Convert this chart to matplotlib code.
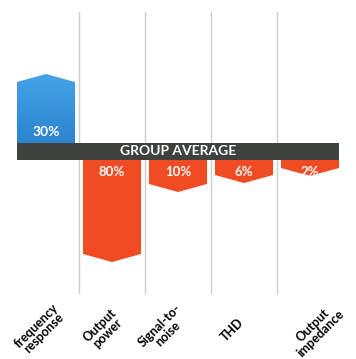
import numpy as np
import matplotlib
matplotlib.use("Agg")
from matplotlib import pyplot as plt
from matplotlib.patches import Polygon

# chart data
categories = ["frequency\nresponse", "Output\npower", "Signal-to-\nnoise", "THD", "Output\nimpedance"]
pct_labels = ["30%", "80%", "10%", "6%", "2%"]
# bar length beyond the group-average band (positive = above, negative = below)
bar_len = [69, -102, -32, -23, -16]

BLUE_TOP = "#45a3e8"
BLUE_BOT = "#2c84cf"
ORANGE = "#f14b23"
BAND = "#3e4340"
GRID = "#cfcfcf"

plt.rcParams["font.family"] = ["Lato", "DejaVu Sans"]

fig = plt.figure(figsize=(3.56, 3.59), dpi=100)
ax = fig.add_axes([0, 0, 1, 1])
ax.set_xlim(-0.697, 4.697)
ax.set_ylim(-207.5, 151.5)
ax.axis("off")

half_w = 0.44
band = 8.5
tip = 8

# vertical separators
for i in range(len(categories) - 1):
    ax.plot([i + 0.5, i + 0.5], [-141.5, 139.5], color=GRID, lw=1, zorder=1)

cmap = matplotlib.colors.LinearSegmentedColormap.from_list("b", [BLUE_BOT, BLUE_TOP])

for i, v in enumerate(bar_len):
    x0, x1 = i - half_w, i + half_w
    if v > 0:
        base, end = band, band + v
        shoulder = end - tip
    else:
        base, end = -band, -band + v
        shoulder = end + tip
    verts = [(x0, base), (x0, shoulder), (i, end), (x1, shoulder), (x1, base)]
    if v > 0:
        poly = Polygon(verts, closed=True, facecolor="none", edgecolor="none")
        ax.add_patch(poly)
        grad = np.linspace(0, 1, 100).reshape(-1, 1)
        im = ax.imshow(grad, extent=[x0, x1, base, end], origin="lower", cmap=cmap,
                       aspect="auto", zorder=2)
        im.set_clip_path(poly)
        ax.text(i, base + 11, pct_labels[i], color="white", fontsize=10,
                fontweight="bold", ha="center", va="center", zorder=4)
    else:
        ax.add_patch(Polygon(verts, closed=True, facecolor=ORANGE, edgecolor="none", zorder=2))
        ax.text(i, base - 12, pct_labels[i], color="white", fontsize=9.5,
                fontweight="bold", ha="center", va="center", zorder=4)

# group average band
ax.add_patch(plt.Rectangle((-half_w, -band), len(bar_len) - 1 + 2 * half_w, 2 * band,
                           facecolor=BAND, edgecolor="none", zorder=3))
ax.text(2, 0, "GROUP AVERAGE", color="white", fontsize=10, fontweight="bold",
        ha="center", va="center", zorder=4)

# category labels, rotated
label_dx = [-0.09, -0.13, -0.22, -0.17, 0.1]
for i, c in enumerate(categories):
    ax.text(i + label_dx[i], -178, c, rotation=45, rotation_mode="anchor", fontsize=9,
            fontweight="bold", ha="center", va="center", multialignment="center",
            linespacing=0.9, color="black")

fig.savefig("out.png", dpi=100)
